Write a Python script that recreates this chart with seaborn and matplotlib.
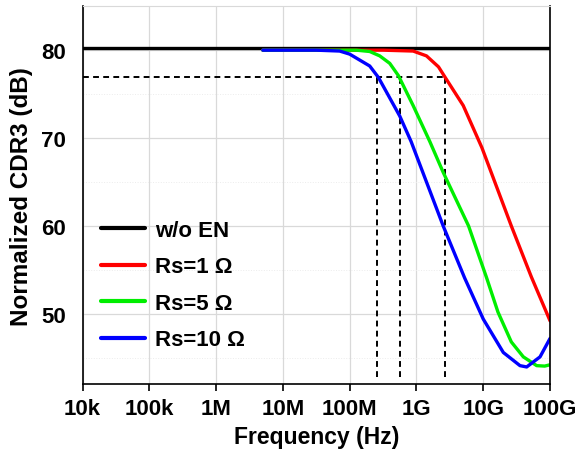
import numpy as np
import pandas as pd
import seaborn as sns
import matplotlib
matplotlib.use("Agg")
import matplotlib.pyplot as plt
from matplotlib.ticker import LogLocator, NullFormatter, MultipleLocator

# data (log10 of frequency in Hz, dB)
black_logf = [4.0, 11.0]
black_db = [80.3, 80.3]

red_logf = [6.7, 8.5, 8.95, 9.15, 9.33, 9.43, 9.7, 9.98, 10.42, 10.72, 11.0]
red_db = [80.0, 80.0, 79.9, 79.35, 78.1, 76.9, 73.7, 68.9, 60.0, 54.2, 49.2]

green_logf = [6.7, 8.1, 8.3, 8.45, 8.6, 8.73, 8.95, 9.2, 9.4, 9.78, 10.05, 10.22, 10.42, 10.6, 10.8, 10.92, 11.0]
green_db = [80.0, 80.0, 79.85, 79.35, 78.5, 77.1, 73.7, 69.6, 66.1, 60.0, 54.1, 50.2, 46.8, 45.1, 44.1, 44.05, 44.2]

blue_logf = [6.7, 7.5, 7.85, 8.0, 8.3, 8.43, 8.75, 8.92, 9.4, 9.72, 10.0, 10.3, 10.55, 10.65, 10.85, 11.0]
blue_db = [80.0, 80.0, 79.9, 79.55, 78.2, 76.9, 72.5, 69.6, 60.0, 54.1, 49.4, 45.6, 44.1, 43.95, 45.1, 47.2]

labels = ["w/o EN", "Rs=1 \u03a9", "Rs=5 \u03a9", "Rs=10 \u03a9"]
colors = ["#000000", "#ff0000", "#00ee00", "#0000ff"]

cut_db = 77.0
cut_logf = [8.41, 8.75, 9.42]

xtick_labels = ["10k", "100k", "1M", "10M", "100M", "1G", "10G", "100G"]

rows = []
for lab, lf, db in zip(labels, [black_logf, red_logf, green_logf, blue_logf],
                       [black_db, red_db, green_db, blue_db]):
    for a, b in zip(lf, db):
        rows.append({"freq": 10 ** a, "cdr3": b, "series": lab})
df = pd.DataFrame(rows)

sns.set_style("white")
plt.rcParams['font.family'] = ['Liberation Sans', 'DejaVu Sans']
plt.rcParams['font.weight'] = 'bold'
for k in ['text.color', 'axes.labelcolor', 'xtick.color', 'ytick.color']:
    plt.rcParams[k] = 'black'

fig = plt.figure(figsize=(5.79, 4.52), dpi=100)
ax = fig.add_axes([0.1425, 0.148, 0.8075, 0.836])

ax.set_xscale("log")
ax.grid(True, which="major", color="#d9d9d9", lw=0.9)
ax.grid(True, which="minor", color="#ececec", lw=0.7, ls=":")
ax.set_axisbelow(True)

# dashed cut-off guides
ax.plot([1e4, 10 ** cut_logf[-1]], [cut_db, cut_db], color="black", lw=1.4, dashes=(3, 2.2))
for c in cut_logf:
    ax.plot([10 ** c, 10 ** c], [42.8, cut_db], color="black", lw=1.4, dashes=(3, 2.2))

sns.lineplot(data=df, x="freq", y="cdr3", hue="series", hue_order=labels,
             palette=colors, sort=False, lw=2.4, ax=ax, legend=True)
ax.lines[-4].set_linewidth(3.0)
ax.lines[-4].set_zorder(5)

ax.set_xlim(1e4, 1e11)
ax.set_ylim(42, 85)
ax.set_xticks([10 ** k for k in range(4, 12)])
ax.set_xticklabels(xtick_labels)
ax.xaxis.set_minor_locator(LogLocator(base=10, subs=np.arange(2, 10)))
ax.xaxis.set_minor_formatter(NullFormatter())
ax.yaxis.set_major_locator(MultipleLocator(10))
ax.yaxis.set_minor_locator(MultipleLocator(5))

ax.tick_params(axis="x", which="major", direction="out", length=5, width=1.2,
               labelsize=16, pad=5, bottom=True, colors="black")
ax.tick_params(axis="x", which="minor", direction="out", length=2.5, width=0.9,
               bottom=True, colors="black")
ax.tick_params(axis="y", which="both", length=0, labelsize=16, pad=12, colors="black")
for t in ax.get_xticklabels() + ax.get_yticklabels():
    t.set_fontweight("bold")

for s in ["left", "bottom", "right"]:
    ax.spines[s].set_color("black")
    ax.spines[s].set_linewidth(1.2)
ax.spines["top"].set_color("#d9d9d9")

ax.set_xlabel("Frequency (Hz)", fontsize=16.5, fontweight="bold", labelpad=4, color="black")
ax.set_ylabel("Normalized CDR3 (dB)", fontsize=17.5, fontweight="bold", labelpad=6, color="black")

leg = ax.legend(loc="center left", bbox_to_anchor=(0.02, 0.262), frameon=False,
                fontsize=16, handlelength=2.0, handletextpad=0.45, labelspacing=0.7,
                borderaxespad=0)
for h in leg.get_lines():
    h.set_linewidth(3.0)
for t in leg.get_texts():
    t.set_fontweight("bold")
    t.set_color("black")

fig.savefig("out.png", dpi=100)
